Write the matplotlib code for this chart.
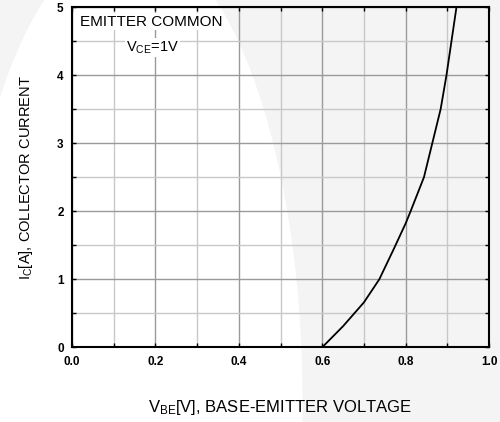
import numpy as np
import matplotlib
matplotlib.use("Agg")
import matplotlib.pyplot as plt
from matplotlib.patches import Ellipse
from matplotlib.ticker import MultipleLocator

plt.rcParams['font.family'] = ['Liberation Sans', 'DejaVu Sans']
plt.rcParams['mathtext.fontset'] = 'custom'
plt.rcParams['mathtext.rm'] = 'Liberation Sans'
plt.rcParams['mathtext.it'] = 'Liberation Sans'

# curve
vbe = [0.600, 0.650, 0.680, 0.700, 0.737, 0.772, 0.800, 0.812, 0.844, 0.864,
       0.884, 0.898, 0.910, 0.922]
ic = [0.00, 0.31, 0.52, 0.66, 1.00, 1.45, 1.82, 2.00, 2.50, 3.00,
      3.50, 4.00, 4.50, 5.00]

xticks = [0.0, 0.2, 0.4, 0.6, 0.8, 1.0]
yticks = [0, 1, 2, 3, 4, 5]

fig = plt.figure(figsize=(5, 4.22), dpi=100)
fig.patch.set_facecolor('#f4f4f4')
# faint watermark shape behind the chart
fig.add_artist(Ellipse((0.26, 0.05), 0.69, 2.19, transform=fig.transFigure,
                       facecolor='white', edgecolor='none', zorder=0))

ax = fig.add_axes([0.144, 0.177, 0.834, 0.806])
ax.set_facecolor('none')

ax.plot(vbe, ic, color='black', lw=1.3, zorder=3)

ax.set_xlim(0, 1)
ax.set_ylim(0, 5)
ax.set_xticks(xticks)
ax.set_xticklabels([f'{t:.1f}' for t in xticks])
ax.set_yticks(yticks)
ax.xaxis.set_minor_locator(MultipleLocator(0.1))
ax.yaxis.set_minor_locator(MultipleLocator(0.5))
ax.grid(which='major', color='#9a9a9a', lw=1.0)
ax.grid(which='minor', color='#c8c8c8', lw=1.0)
ax.set_axisbelow(True)

ax.tick_params(which='both', direction='in', top=True, right=True,
               length=3, width=1, labelsize=8.5)
ax.tick_params(axis='x', pad=6)
ax.tick_params(axis='y', pad=6)
for lab in ax.get_xticklabels() + ax.get_yticklabels():
    lab.set_fontweight('bold')
for s in ax.spines.values():
    s.set_linewidth(1.5)

ax.set_xlabel('V$_{\\mathrm{BE}}$[V], BASE-EMITTER VOLTAGE', fontsize=12,
              labelpad=22)
ax.set_ylabel('I$_{\\mathrm{C}}$[A], COLLECTOR CURRENT', fontsize=10.5,
              labelpad=16)

ax.text(0.02, 0.978, 'EMITTER COMMON', transform=ax.transAxes, fontsize=11,
        va='top', ha='left',
        bbox=dict(facecolor='white', edgecolor='none', pad=1))
ax.text(0.193, 0.905, 'V$_{\\mathrm{CE}}$=1V', transform=ax.transAxes,
        fontsize=10.5, va='top', ha='center',
        bbox=dict(facecolor='white', edgecolor='none', pad=1))

fig.savefig('out.png', dpi=100)
